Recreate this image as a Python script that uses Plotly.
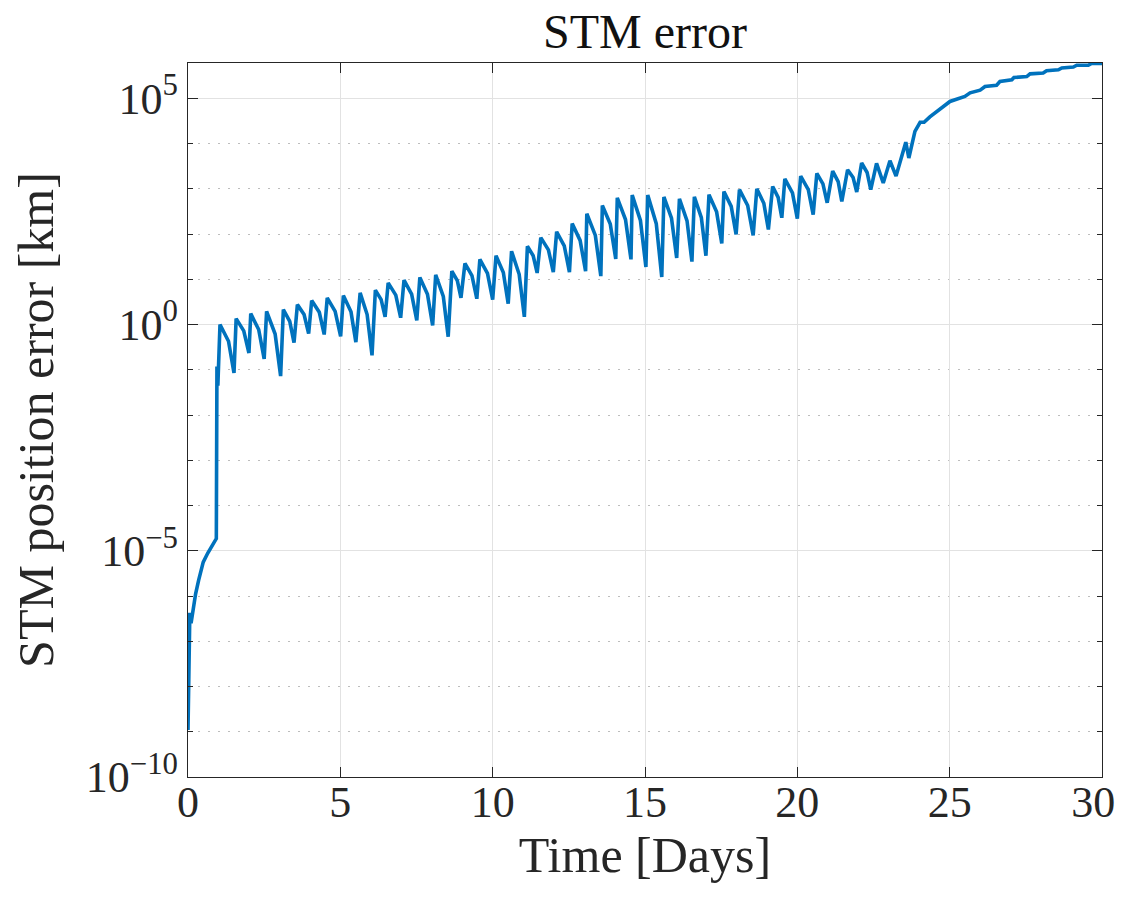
import numpy as np
import plotly.graph_objects as go

# Time [days] and log10 of STM position error [km]
time_days = [
    0.00, 0.03, 0.06, 0.10, 0.15, 0.25, 0.35, 0.50, 0.65, 0.93, 0.95, 0.98,
    1.05, 1.33, 1.51, 1.58, 1.83, 2.00, 2.06, 2.32, 2.50, 2.58, 2.86, 3.04,
    3.13, 3.34, 3.48, 3.59, 3.81, 3.96, 4.06, 4.31, 4.47, 4.57, 4.83, 5.01,
    5.10, 5.35, 5.51, 5.65, 5.88, 6.04, 6.15, 6.34, 6.47, 6.57, 6.82, 6.98,
    7.09, 7.34, 7.51, 7.61, 7.86, 8.03, 8.13, 8.38, 8.54, 8.66, 8.84, 8.96,
    9.09, 9.32, 9.48, 9.58, 9.83, 10.00, 10.11, 10.35, 10.51, 10.62, 10.87, 11.04,
    11.14, 11.33, 11.46, 11.58, 11.83, 11.99, 12.10, 12.35, 12.52, 12.61, 12.87, 13.05,
    13.09, 13.37, 13.55, 13.60, 13.86, 14.04, 14.09, 14.36, 14.54, 14.58, 14.85, 15.03,
    15.09, 15.37, 15.55, 15.62, 15.87, 16.04, 16.13, 16.38, 16.54, 16.62, 16.85, 17.00,
    17.10, 17.35, 17.52, 17.59, 17.83, 17.99, 18.10, 18.37, 18.55, 18.67, 18.90, 19.05,
    19.19, 19.37, 19.49, 19.59, 19.84, 20.00, 20.11, 20.36, 20.52, 20.64, 20.84, 20.98,
    21.16, 21.34, 21.46, 21.65, 21.83, 21.95, 22.11, 22.29, 22.41, 22.60, 22.82, 23.04,
    23.24, 23.56, 23.66, 23.86, 24.03, 24.16, 24.35, 24.57, 25.01, 25.50, 25.67, 26.00,
    26.16, 26.54, 26.65, 27.04, 27.11, 27.53, 27.64, 28.07, 28.18, 28.57, 28.68, 29.06,
    29.17, 29.55, 29.66, 30.00,
]
log10_error_km = [
    -8.96, -6.70, -6.37, -6.60, -6.35, -5.95, -5.65, -5.25, -5.05, -4.73, -0.93, -1.35,
    0.00, -0.37, -1.07, 0.13, -0.14, -0.63, 0.24, -0.11, -0.76, 0.29, -0.21, -1.14,
    0.33, 0.07, -0.40, 0.44, 0.22, -0.20, 0.53, 0.27, -0.22, 0.59, 0.29, -0.26,
    0.64, 0.28, -0.39, 0.70, 0.22, -0.68, 0.76, 0.55, 0.17, 0.92, 0.65, 0.15,
    0.98, 0.67, 0.09, 1.04, 0.67, -0.02, 1.10, 0.62, -0.27, 1.18, 0.97, 0.59,
    1.35, 1.08, 0.57, 1.44, 1.13, 0.55, 1.52, 1.15, 0.46, 1.62, 1.11, 0.17,
    1.73, 1.52, 1.14, 1.92, 1.65, 1.16, 2.05, 1.74, 1.16, 2.23, 1.86, 1.18,
    2.45, 1.97, 1.07, 2.63, 2.22, 1.45, 2.80, 2.32, 1.44, 2.86, 2.30, 1.27,
    2.86, 2.23, 1.05, 2.82, 2.35, 1.47, 2.78, 2.29, 1.39, 2.82, 2.36, 1.52,
    2.87, 2.49, 1.79, 2.94, 2.61, 1.99, 2.98, 2.63, 1.97, 3.00, 2.68, 2.10,
    3.05, 2.81, 2.36, 3.22, 2.91, 2.34, 3.28, 2.98, 2.43, 3.34, 3.11, 2.69,
    3.39, 3.16, 2.72, 3.42, 3.25, 2.93, 3.57, 3.36, 2.98, 3.56, 3.13, 3.62,
    3.28, 4.03, 3.68, 4.27, 4.47, 4.47, 4.59, 4.71, 4.93, 5.04, 5.12, 5.18,
    5.26, 5.29, 5.37, 5.41, 5.46, 5.48, 5.54, 5.56, 5.61, 5.63, 5.67, 5.69,
    5.73, 5.73, 5.77, 5.77,
]

x_tick_vals = [0, 5, 10, 15, 20, 25, 30]
x_tick_text = ["0", "5", "10", "15", "20", "25", "30\u2009\u2009"]
y_major_exps = [-10, -5, 0, 5]
y_minor_exps = [-9, -8, -7, -6, -4, -3, -2, -1, 1, 2, 3, 4]

error_km = 10.0 ** np.array(log10_error_km)

FONT = "Liberation Serif"
AX = "#262626"
GRID = "#e2e2e2"
TICK_SIZE = 44
LABEL_SIZE = 50

fig = go.Figure()
fig.add_trace(go.Scatter(
    x=time_days, y=error_km, mode="lines",
    line=dict(color="#0072BD", width=3.6),
    showlegend=False,
))

# page body adds an 8px offset; the figure is sized to fit inside it
fig.update_layout(
    width=1118, height=881,
    paper_bgcolor="white", plot_bgcolor="white",
    margin=dict(l=180, r=24, t=55, b=112),
    font=dict(family=FONT, color=AX, size=TICK_SIZE),
    title=dict(text="STM error", x=0.5, xref="paper", xanchor="center",
               y=0.9737, yref="container", yanchor="middle",
               font=dict(family=FONT, size=48, color="#111111")),
)

fig.update_xaxes(
    range=[0, 30], tickmode="array", tickvals=x_tick_vals,
    ticktext=x_tick_text,
    automargin=False, ticklabelstandoff=-14, ticklabeloverflow="allow",
    showline=True, linecolor=AX, linewidth=1.4, mirror="allticks",
    ticks="inside", ticklen=10, tickwidth=1.4, tickcolor=AX,
    showgrid=True, gridcolor=GRID, gridwidth=1.3,
    zeroline=False,
    tickfont=dict(family=FONT, size=TICK_SIZE, color=AX),
    title=dict(text="Time [Days]", font=dict(family=FONT, size=LABEL_SIZE, color=AX), standoff=5),
)

fig.update_yaxes(
    type="log", range=[-10, 5.78],
    tickmode="array", tickvals=[10.0 ** e for e in y_major_exps],
    ticktext=[f"10<sup>{e}</sup>".replace("-", "\u2212") for e in y_major_exps],
    automargin=False, ticklabeloverflow="allow",
    showline=True, linecolor=AX, linewidth=1.4, mirror="allticks",
    ticks="inside", ticklen=10, tickwidth=1.4, tickcolor=AX,
    showgrid=True, gridcolor=GRID, gridwidth=1.3,
    zeroline=False,
    minor=dict(tickmode="array", tickvals=[10.0 ** e for e in y_minor_exps],
               ticks="inside", ticklen=5, tickwidth=1.2, tickcolor=AX,
               showgrid=True, gridcolor="#bdbdbd", griddash="2px,8px", gridwidth=1.3),
    tickfont=dict(family=FONT, size=TICK_SIZE, color=AX),
    title=dict(text="STM position error [km]", font=dict(family=FONT, size=LABEL_SIZE, color=AX), standoff=25),
)

fig.write_html("out.html")
